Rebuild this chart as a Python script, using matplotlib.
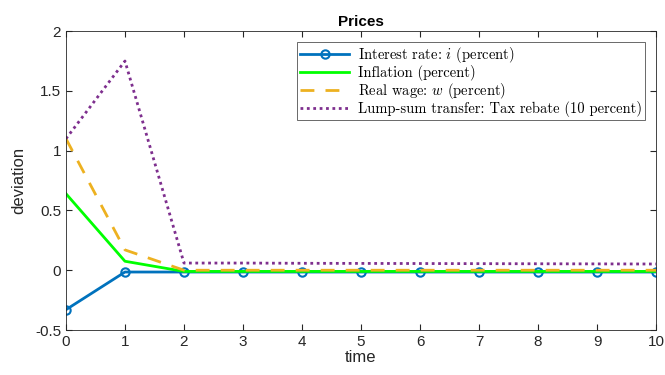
import matplotlib.pyplot as plt

plt.rcParams['font.family'] = ['Liberation Sans', 'DejaVu Sans']
plt.rcParams['mathtext.fontset'] = 'cm'
plt.rcParams['axes.unicode_minus'] = False

time = list(range(11))
interest = [-0.33, -0.015, -0.015, -0.015, -0.015, -0.015, -0.015, -0.015, -0.015, -0.015, -0.015]
inflation = [0.64, 0.075, -0.01, -0.01, -0.01, -0.01, -0.01, -0.01, -0.01, -0.01, -0.01]
real_wage = [1.1, 0.17, 0.0, 0.0, 0.0, 0.0, 0.0, 0.0, 0.0, 0.0, 0.0]
transfer = [1.1, 1.75, 0.06, 0.06, 0.058, 0.057, 0.056, 0.055, 0.054, 0.053, 0.052]

labels = ['Interest rate: $i$ (percent)',
          'Inflation (percent)',
          'Real wage: $w$ (percent)',
          'Lump-sum transfer: Tax rebate (10 percent)']

fig = plt.figure(figsize=(6.65, 3.75), dpi=100)
ax = fig.add_axes([0.0992, 0.12, 0.8873, 0.797])

ax.plot(time, interest, color='#0072BD', lw=2, marker='o', ms=6, mfc='none', mew=1.5, label=labels[0])
ax.plot(time, inflation, color='#00FF00', lw=2, label=labels[1])
ax.plot(time, real_wage, color='#EDB120', lw=2, ls=(0, (5, 4)), label=labels[2])
ax.plot(time, transfer, color='#7E2F8E', lw=2, ls=(0, (1, 1.3)), label=labels[3])

ax.set_xlim(0, 10)
ax.set_ylim(-0.5, 2)
ax.set_xticks(range(11))
ax.set_yticks([-0.5, 0, 0.5, 1, 1.5, 2])
ax.set_yticklabels(['-0.5', '0', '0.5', '1', '1.5', '2'])
ax.tick_params(direction='in', top=True, right=True, labelsize=11, colors='#262626', length=4)
for s in ax.spines.values():
    s.set_color('#262626')
    s.set_linewidth(0.6)

ax.set_title('Prices', fontsize=11, fontweight='bold', pad=4)
ax.set_xlabel('time', fontsize=12, color='#262626', labelpad=1)
ax.set_ylabel('deviation', fontsize=12, color='#262626', labelpad=6)

leg = ax.legend(loc='upper right', prop={'family': 'cmr10', 'size': 10.5},
                fancybox=False, edgecolor='#262626',
                handlelength=3.4, handletextpad=0.6, borderpad=0.2, labelspacing=0.0,
                borderaxespad=0.75)
leg.get_frame().set_linewidth(0.6)

fig.savefig('out.png', dpi=100)
